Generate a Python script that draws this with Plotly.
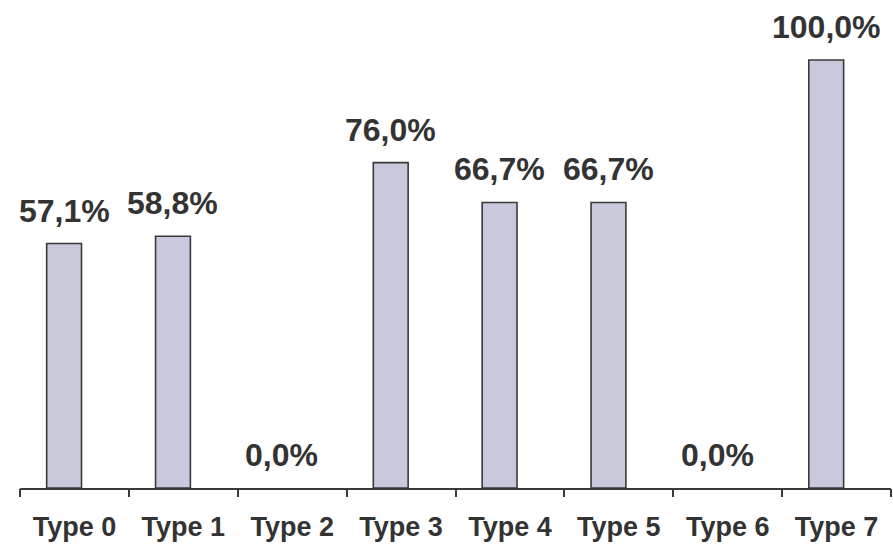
import plotly.graph_objects as go

categories = ["Type 0", "Type 1", "Type 2", "Type 3", "Type 4", "Type 5", "Type 6", "Type 7"]
values = [57.1, 58.8, 0.0, 76.0, 66.7, 66.7, 0.0, 100.0]
labels = ["57,1%", "58,8%", "0,0%", "76,0%", "66,7%", "66,7%", "0,0%", "100,0%"]

BAR_W = 0.32
BAR_OFF = -0.255  # left edge relative to category centre
FONT = "Liberation Sans, Arial, sans-serif"

fig = go.Figure()
fig.add_trace(go.Bar(
    x=list(range(len(categories))), y=values,
    width=BAR_W, offset=BAR_OFF,
    marker=dict(color="#c9c9dd",
                line=dict(color="#3a3a3a", width=[1.6 if v > 0 else 0 for v in values])),
    hoverinfo="skip",
))

centre_shift = BAR_OFF + BAR_W / 2
for i, (v, t) in enumerate(zip(values, labels)):
    fig.add_annotation(
        x=i + centre_shift, y=v, text="<b>%s</b>" % t, showarrow=False,
        xref="x", yref="y", yanchor="bottom", yshift=13,
        font=dict(family=FONT, size=32, color="#333333"),
    )

fig.update_layout(
    width=893, height=547,
    margin=dict(l=20, r=2, t=0, b=59, autoexpand=False),
    paper_bgcolor="white", plot_bgcolor="white",
    showlegend=False,
    xaxis=dict(
        tickmode="array", tickvals=list(range(len(categories))),
        ticktext=["<b>%s</b>" % c for c in categories],
        showline=True, linecolor="#3a3a3a", linewidth=2,
        ticks="", showgrid=False, zeroline=False,
        tickfont=dict(family=FONT, size=27, color="#333333"),
        ticklabelstandoff=14,
        automargin=False,
        range=[-0.5, len(categories) - 0.5],
    ),
    xaxis2=dict(
        overlaying="x", matches="x", side="bottom",
        tickmode="array", tickvals=[i - 0.5 for i in range(len(categories) + 1)],
        showticklabels=False, ticks="outside", ticklen=8, tickwidth=2, tickcolor="#3a3a3a",
        showline=False, showgrid=False, zeroline=False, automargin=False,
    ),
    yaxis=dict(visible=False, range=[0, 114], showgrid=False, zeroline=False),
)
fig.add_trace(go.Scatter(x=[0], y=[0], xaxis="x2", mode="markers",
                         marker=dict(opacity=0), hoverinfo="skip", showlegend=False))

fig.write_html("out.html", config={"displayModeBar": False},
               post_script="document.body.style.margin='0px';")
